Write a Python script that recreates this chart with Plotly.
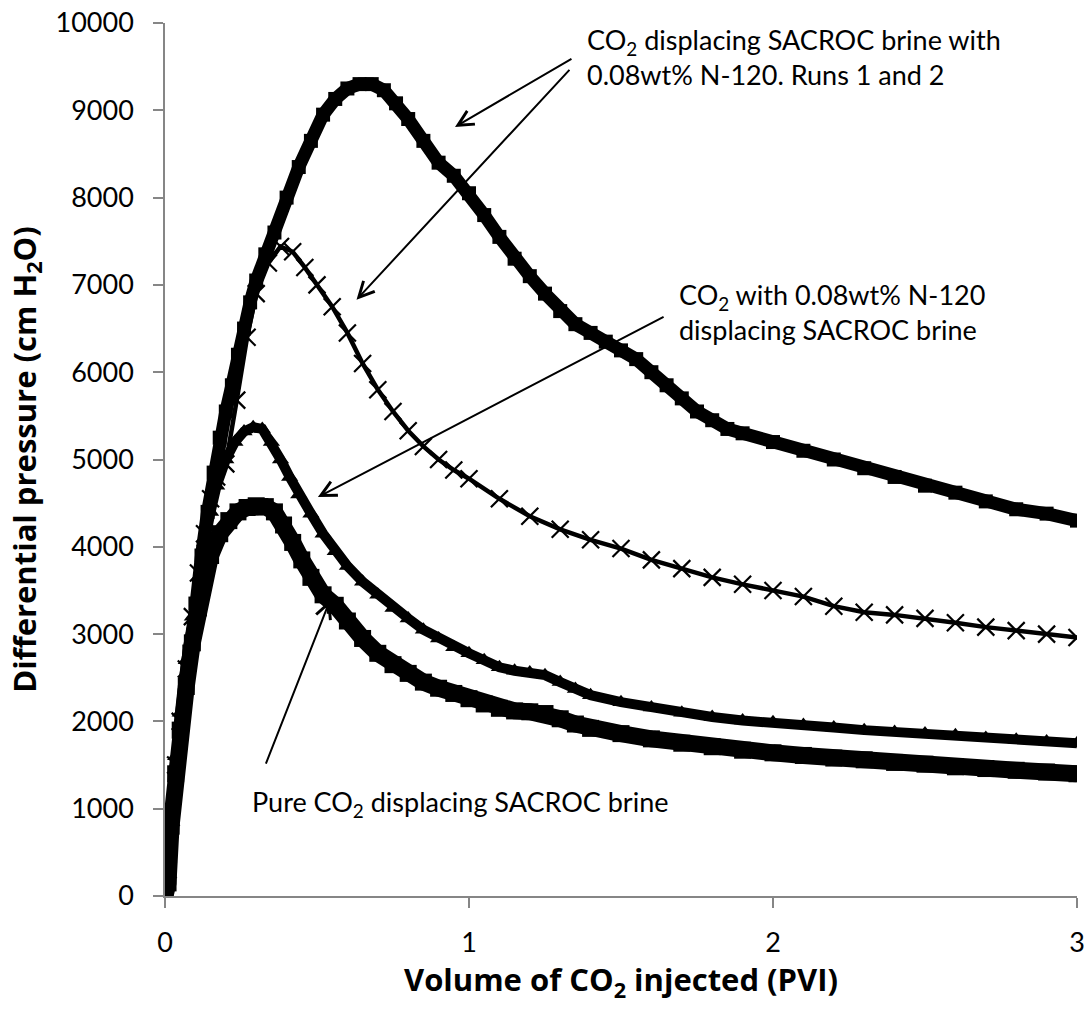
import plotly.graph_objects as go

# ---------------- data ----------------
run1_x = [0, 0.01, 0.02, 0.035, 0.05, 0.065, 0.08, 0.1, 0.12, 0.14, 0.16, 0.18, 0.2, 0.22, 0.24,
          0.26, 0.28, 0.3, 0.33, 0.36, 0.4, 0.44, 0.48, 0.52, 0.56, 0.6, 0.64, 0.68, 0.72, 0.76,
          0.8, 0.85, 0.9, 0.95, 1.0, 1.05, 1.1, 1.15, 1.2, 1.25, 1.3, 1.35, 1.4, 1.45, 1.5, 1.55,
          1.6, 1.65, 1.7, 1.75, 1.8, 1.85, 1.9, 2.0, 2.1, 2.2, 2.3, 2.4, 2.5, 2.6, 2.7, 2.8, 2.9, 3.0]
run1_y = [0, 150, 800, 1300, 1800, 2300, 2800, 3350, 3900, 4400, 4850, 5250, 5550, 5850, 6200,
          6500, 6800, 7050, 7350, 7600, 8000, 8350, 8650, 8950, 9130, 9250, 9300, 9300, 9230, 9080,
          8900, 8650, 8400, 8250, 8050, 7800, 7550, 7300, 7100, 6900, 6700, 6550, 6450, 6350, 6250, 6150,
          6000, 5850, 5700, 5550, 5450, 5350, 5300, 5200, 5100, 5000, 4900, 4800, 4700, 4620, 4520, 4430, 4380, 4300]

run2_x = [0, 0.01, 0.02, 0.035, 0.05, 0.07, 0.09, 0.11, 0.13, 0.15, 0.17, 0.2, 0.236, 0.27, 0.3,
          0.34, 0.38, 0.42, 0.46, 0.5, 0.55, 0.6, 0.65, 0.7, 0.75, 0.8, 0.85, 0.9, 0.95, 1.0,
          1.1, 1.2, 1.3, 1.4, 1.5, 1.6, 1.7, 1.8, 1.9, 2.0, 2.1, 2.2, 2.3, 2.4, 2.5, 2.6, 2.7, 2.8, 2.9, 3.0]
run2_y = [0, 300, 900, 1500, 2000, 2600, 3200, 3700, 4150, 4550, 4800, 4950, 5680, 6400, 6900,
          7250, 7440, 7380, 7200, 7000, 6750, 6450, 6100, 5800, 5550, 5330, 5150, 5000, 4880, 4780,
          4550, 4350, 4200, 4080, 3980, 3850, 3750, 3650, 3570, 3500, 3430, 3320, 3250, 3220, 3180,
          3130, 3080, 3040, 3000, 2960]

n120_x = [0, 0.01, 0.02, 0.035, 0.05, 0.07, 0.09, 0.11, 0.13, 0.15, 0.17, 0.2, 0.23, 0.26, 0.29,
          0.32, 0.35, 0.38, 0.41, 0.44, 0.48, 0.52, 0.56, 0.6, 0.65, 0.7, 0.75, 0.8, 0.85, 0.9, 0.95,
          1.0, 1.05, 1.1, 1.15, 1.2, 1.25, 1.3, 1.35, 1.4, 1.5, 1.6, 1.7, 1.8, 1.9, 2.0, 2.1, 2.2,
          2.3, 2.4, 2.5, 2.6, 2.7, 2.8, 2.9, 3.0]
n120_y = [0, 300, 900, 1600, 2100, 2700, 3200, 3650, 4050, 4400, 4700, 5000, 5200, 5320, 5370,
          5350, 5200, 5000, 4800, 4600, 4380, 4150, 3950, 3780, 3600, 3450, 3300, 3180, 3050, 2950, 2850,
          2780, 2700, 2620, 2580, 2560, 2530, 2450, 2370, 2300, 2220, 2160, 2100, 2050, 2010, 1990, 1960, 1930,
          1900, 1880, 1860, 1840, 1810, 1790, 1770, 1750]

pure_x = [0, 0.01, 0.02, 0.035, 0.05, 0.07, 0.09, 0.11, 0.13, 0.15, 0.18, 0.21, 0.24, 0.27, 0.3,
          0.33, 0.36, 0.39, 0.42, 0.45, 0.48, 0.52, 0.56, 0.6, 0.65, 0.7, 0.75, 0.8, 0.85, 0.9, 0.95,
          1.0, 1.05, 1.1, 1.15, 1.2, 1.25, 1.3, 1.35, 1.4, 1.5, 1.6, 1.7, 1.8, 1.9, 2.0, 2.1, 2.2,
          2.3, 2.4, 2.5, 2.6, 2.7, 2.8, 2.9, 3.0]
pure_y = [0, 150, 800, 1400, 1900, 2400, 2900, 3300, 3650, 3900, 4150, 4300, 4400, 4450, 4470,
          4460, 4400, 4250, 4050, 3850, 3650, 3450, 3330, 3150, 2950, 2780, 2650, 2550, 2450, 2380, 2320,
          2260, 2200, 2150, 2120, 2110, 2090, 2030, 1970, 1920, 1860, 1800, 1750, 1710, 1670, 1640, 1610, 1580,
          1560, 1530, 1510, 1480, 1460, 1440, 1420, 1400]

x_ticks = [0, 1, 2, 3]
y_ticks = [0, 1000, 2000, 3000, 4000, 5000, 6000, 7000, 8000, 9000, 10000]

label_runs = "CO<sub>2</sub> displacing SACROC brine with<br>0.08wt% N-120. Runs 1 and 2"
label_n120 = "CO<sub>2</sub> with 0.08wt% N-120<br>displacing SACROC brine"
label_pure = "Pure CO<sub>2</sub> displacing SACROC brine"
x_title = "<b>Volume of CO<sub>2</sub> injected (PVI)</b>"
y_title = "<b>Differential pressure (cm H<sub>2</sub>O)</b>"

FONT = "Lato, 'Open Sans', sans-serif"
TITLE_FONT = "'Open Sans', Lato, sans-serif"
AXIS_GRAY = "#868686"

fig = go.Figure()

fig.add_trace(go.Scatter(
    x=pure_x, y=pure_y, mode="lines+markers",
    line=dict(color="black", width=17),
    marker=dict(symbol="square", size=17, color="black"),
    showlegend=False, hoverinfo="skip"))

fig.add_trace(go.Scatter(
    x=n120_x, y=n120_y, mode="lines+markers",
    line=dict(color="black", width=10),
    marker=dict(symbol="triangle-up", size=15, color="black"),
    showlegend=False, hoverinfo="skip"))

fig.add_trace(go.Scatter(
    x=run2_x, y=run2_y, mode="lines+markers",
    line=dict(color="black", width=4.5),
    marker=dict(symbol="x-thin", size=17, color="black", line=dict(color="black", width=2.2)),
    showlegend=False, hoverinfo="skip"))

fig.add_trace(go.Scatter(
    x=run1_x, y=run1_y, mode="lines+markers",
    line=dict(color="black", width=13),
    marker=dict(symbol="square", size=14, color="black"),
    showlegend=False, hoverinfo="skip"))

axis_common = dict(
    showline=True, linecolor=AXIS_GRAY, linewidth=1.5,
    ticks="outside", ticklen=10, tickwidth=1.5, tickcolor=AXIS_GRAY,
    showgrid=False, zeroline=False,
    tickfont=dict(family=FONT, size=27, color="black"),
)

fig.update_xaxes(
    range=[0, 3], tickvals=x_ticks, ticktext=[str(v) for v in x_ticks],
    title=dict(text=x_title, font=dict(family=TITLE_FONT, size=31, color="black"), standoff=0),
    ticklabelstandoff=12,
    **axis_common)
fig.update_yaxes(
    range=[0, 10000], tickvals=y_ticks, ticktext=[str(v) for v in y_ticks],
    title=dict(text=y_title, font=dict(family=TITLE_FONT, size=31, color="black"), standoff=10),
    ticklabelstandoff=14,
    **axis_common)

arrow_style = dict(showarrow=True, arrowhead=5, arrowsize=1.5, arrowwidth=2,
                   arrowcolor="black", axref="x", ayref="y", xref="x", yref="y", text="")

annotations = [
    # arrows: tip (x, y) and tail (ax, ay)
    dict(x=0.954, y=8810, ax=1.342, ay=9600, **arrow_style),
    dict(x=0.63, y=6830, ax=1.335, ay=9480, **arrow_style),
    dict(x=0.503, y=4570, ax=1.645, ay=6644, **arrow_style),
    dict(x=0.543, y=3390, ax=0.33, ay=1500, **arrow_style),
    # texts
    dict(x=1.3816, y=9616, xref="x", yref="y", text=label_runs, showarrow=False,
         xanchor="left", yanchor="middle", align="left",
         font=dict(family=FONT, size=27, color="black")),
    dict(x=1.6842, y=6695, xref="x", yref="y", text=label_n120, showarrow=False,
         xanchor="left", yanchor="middle", align="left",
         font=dict(family=FONT, size=27, color="black")),
    dict(x=0.2796, y=1065, xref="x", yref="y", text=label_pure, showarrow=False,
         xanchor="left", yanchor="middle", align="left",
         font=dict(family=FONT, size=27, color="black")),
]

fig.update_layout(
    width=1089, height=1011,
    margin=dict(l=165, r=12, t=23, b=115, autoexpand=False),
    paper_bgcolor="white", plot_bgcolor="white",
    annotations=annotations,
    showlegend=False,
)

fig.write_html("out.html")
